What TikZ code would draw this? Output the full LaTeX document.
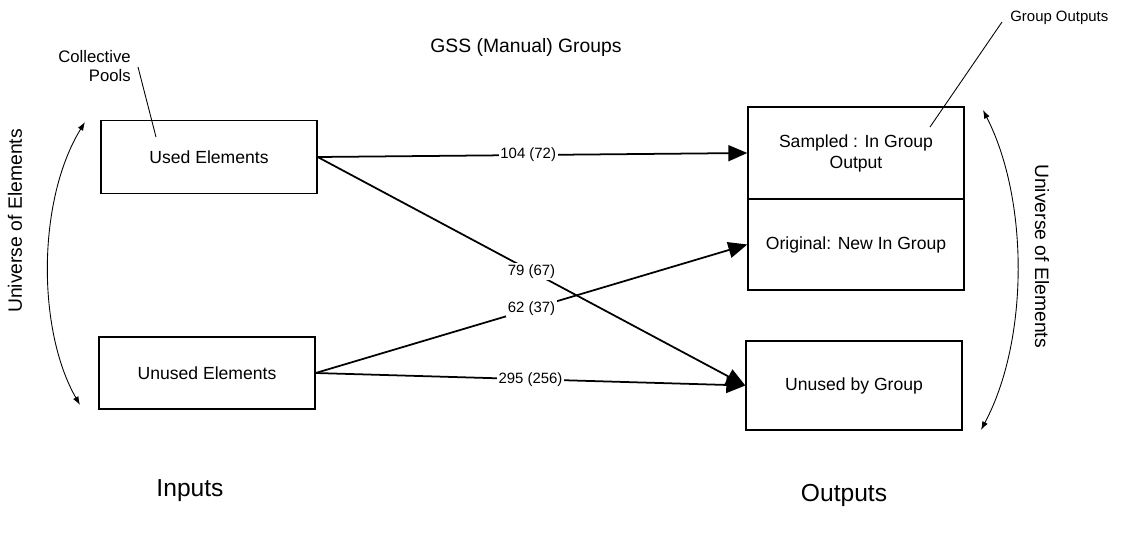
\documentclass[tikz,border=0pt]{standalone}
\usepackage{fontspec}
\setmainfont{Liberation Sans}
\usetikzlibrary{arrows.meta}

\begin{document}
\begin{tikzpicture}[x=0.02cm, y=-0.02cm,
        box/.style={rectangle, draw, line width=0.8pt, minimum width=4.32cm, font=\fontsize{10}{12}\selectfont, align=center},
        flow/.style={-{Triangle[length=0.38cm, width=0.32cm]}, line width=1pt},
        count/.style={fill=white, inner sep=1pt, font=\fontsize{8.5}{10}\selectfont},
        span/.style={{Latex[length=0.17cm, width=0.12cm]}-{Latex[length=0.17cm, width=0.12cm]}, line width=0.5pt}]
    \useasboundingbox (0,0) rectangle (1123,535);

            \node[box, minimum height=1.46cm] (used) at (209,157) {Used Elements};
            \node[box, minimum height=1.44cm] (unused) at (207,373) {Unused Elements};
            \node[box, minimum height=1.84cm] (sampled) at (856,153) {Sampled : In Group\\Output};
            \node[box, minimum height=1.82cm] (original) at (856,244.5) {Original: New In Group};
            \node[box, minimum height=1.78cm] (unusedby) at (854,385.5) {Unused by Group};

            \node[font=\fontsize{11}{13}\selectfont] (title) at (526,47) {GSS (Manual) Groups};
            \node[font=\fontsize{14}{16}\selectfont] (inputs) at (190,491) {Inputs};
            \node[font=\fontsize{14}{16}\selectfont] (outputs) at (844,495) {Outputs};
            \node[font=\fontsize{11}{13}\selectfont, rotate=90] (univL) at (15,221) {Universe of Elements};
            \node[font=\fontsize{11}{13}\selectfont, rotate=-90] (univR) at (1042,256) {Universe of Elements};
            \node[font=\fontsize{9.5}{11}\selectfont, align=right, anchor=east, inner sep=0pt] (pools) at (131,66) {Collective\\Pools};
            \node[font=\fontsize{8.5}{10}\selectfont, anchor=west, inner sep=0pt] (gout) at (1010,18) {Group Outputs};

            \coordinate (poolsA) at (138,67);
            \coordinate (poolsB) at (156,137);
            \coordinate (goutA) at (1002,22);
            \coordinate (goutB) at (930,127);
            \coordinate (lTop) at (85,122);
            \coordinate (lBot) at (80,405);
            \coordinate (rTop) at (983,110);
            \coordinate (rBot) at (981,430);

            \draw[flow] (used.east) -- (sampled.west) node[count, pos=0.49] {104 (72)};
            \draw[flow] (used.east) -- (unusedby.west) node[count, pos=0.5] {79 (67)};
            \draw[flow] (unused.east) -- (original.west) node[count, pos=0.5] {62 (37)};
            \draw[flow] (unused.east) -- (unusedby.west) node[count, pos=0.5] {295 (256)};

            \draw[line width=0.5pt] (poolsA) -- (poolsB);
            \draw[line width=0.5pt] (goutA) -- (goutB);
            \draw[span] (lTop) .. controls (37,200) and (37,330) .. (lBot);
            \draw[span] (rTop) .. controls (1029,200) and (1029,340) .. (rBot);
        \end{tikzpicture}
\end{document}
